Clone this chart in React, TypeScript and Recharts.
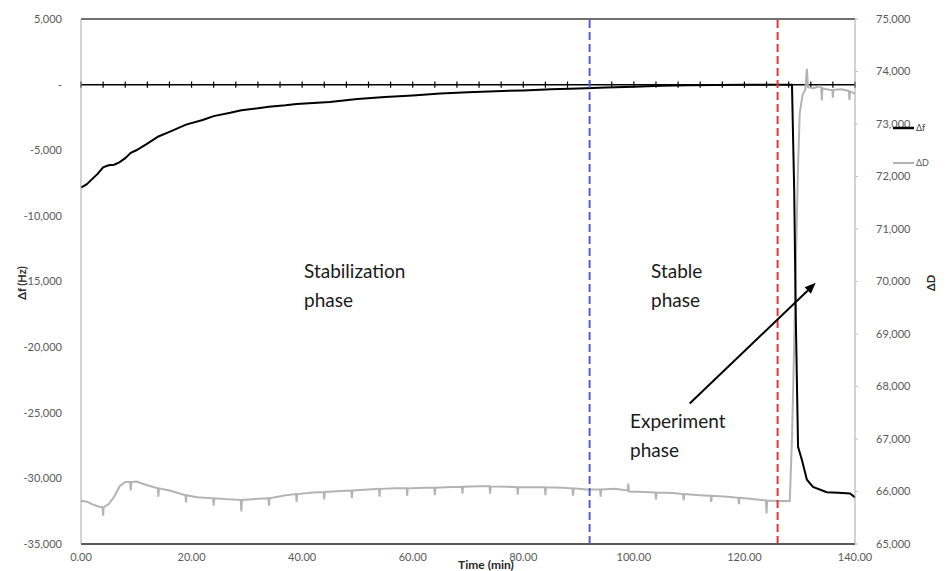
import { LineChart, Line, XAxis, YAxis, ReferenceLine } from "recharts";

// Δf (Hz), primary axis
const TIME_F = [
  0, 1, 2, 3, 4, 5, 6, 7, 8, 9, 10, 12, 14, 16, 19, 22, 24, 27, 29, 32, 34, 37, 39, 42, 45,
  50, 55, 60, 65, 70, 75, 80, 85, 90, 95, 100, 105, 110, 115, 120, 125, 128.6, 129.0, 129.3,
  129.7, 130.4, 131.3, 132.4, 134.9, 137, 139.1, 140,
];
const DELTA_F = [
  -7850, -7600, -7200, -6800, -6300, -6150, -6100, -5900, -5600, -5200, -5000, -4500, -3950,
  -3600, -3050, -2700, -2400, -2150, -1950, -1800, -1680, -1580, -1480, -1400, -1330,
  -1100, -950, -820, -680, -580, -500, -440, -360, -290, -220, -160, -90, -40, -20, -10, 0,
  0, -8000, -18000, -27600, -28600, -30100, -30650, -31050, -31100, -31150, -31450,
];

// ΔD, secondary axis
const TIME_D = [
  0, 1, 2, 3, 3.9, 4, 4.1, 5, 6, 7, 8, 8.9, 9, 9.1, 10, 12,
  13.9, 14, 14.1, 16, 18.9, 19, 19.1, 21, 23.9, 24, 24.1, 27, 28.9, 29, 29.1, 32,
  33.9, 34, 34.1, 37, 38.9, 39, 39.1, 42, 43.9, 44, 44.1, 47, 48.9, 49, 49.1, 52,
  53.9, 54, 54.1, 57, 58.9, 59, 59.1, 62, 63.9, 64, 64.1, 66, 68.9, 69, 69.1, 72,
  73.9, 74, 74.1, 77, 78.9, 79, 79.1, 82, 83.9, 84, 84.1, 87, 88.9, 89, 89.1, 91.5,
  93.9, 94, 94.1, 96.5, 98.9, 99, 99.1, 102, 103.9, 104, 104.1, 107, 108.9, 109, 109.1, 112,
  113.9, 114, 114.1, 117, 118.9, 119, 119.1, 121, 123.9, 124, 124.1, 126, 128.2, 128.6, 129.0, 129.4,
  129.7, 130.0, 130.5, 131.0, 131.3, 131.5, 132.5, 133.5, 133.9, 134, 134.1, 135.5, 135.9, 136, 136.1, 137.5,
  138.9, 139, 139.1, 140,
];
const DELTA_D = [
  65820, 65810, 65760, 65720, 65700, 65540, 65700, 65760, 65900, 66100, 66180, 66180, 66020, 66180, 66190, 66120,
  66060, 65900, 66060, 66020, 65930, 65790, 65930, 65890, 65870, 65730, 65870, 65850, 65840, 65620, 65840, 65860,
  65870, 65730, 65870, 65930, 65950, 65800, 65950, 65980, 65990, 65850, 65990, 66010, 66020, 65880, 66020, 66040,
  66050, 65900, 66050, 66060, 66060, 65920, 66060, 66070, 66070, 65930, 66070, 66080, 66090, 65960, 66090, 66100,
  66100, 65960, 66100, 66090, 66080, 65940, 66080, 66080, 66080, 65930, 66080, 66070, 66060, 65920, 66060, 66040,
  66040, 65900, 66040, 66050, 66020, 66150, 66000, 65990, 65980, 65850, 65980, 65970, 65950, 65830, 65950, 65930,
  65920, 65800, 65920, 65900, 65880, 65760, 65880, 65860, 65830, 65580, 65830, 65820, 65820, 67000, 68800, 70800,
  72200, 73200, 73550, 73650, 74050, 73700, 73680, 73720, 73690, 73450, 73680, 73650, 73650, 73500, 73650, 73660,
  73630, 73460, 73620, 73580,
];

const X_TICKS = [0, 20, 40, 60, 80, 100, 120, 140];
const F_TICKS = [-35000, -30000, -25000, -20000, -15000, -10000, -5000, 0, 5000];
const D_TICKS = [65000, 66000, 67000, 68000, 69000, 70000, 71000, 72000, 73000, 74000, 75000];
// minor ticks along the zero crossing line, every 4 min
const ZERO_TICKS = [
  0, 4, 8, 12, 16, 20, 24, 28, 32, 36, 40, 44, 48, 52, 56, 60, 64, 68,
  72, 76, 80, 84, 88, 92, 96, 100, 104, 108, 112, 116, 120, 124, 128, 132, 136, 140,
];

const STABLE_START = 92;
const EXPERIMENT_START = 126;

const dfData = TIME_F.map((t, i) => ({ t, v: DELTA_F[i] }));
const ddData = TIME_D.map((t, i) => ({ t, v: DELTA_D[i] }));

const FONT = "Lato, 'Open Sans', sans-serif";
const TICK = { fill: "#595959", fontSize: 11, fontFamily: FONT };

const fmtF = (v: number) => (v === 0 ? "-" : v.toLocaleString("en-US"));
const fmtD = (v: number) => v.toLocaleString("en-US");

function Arrow(props: any) {
  const { x1, y1, x2, y2 } = props;
  const ang = Math.atan2(y2 - y1, x2 - x1);
  const len = 11;
  const w = 4.5;
  const bx = x2 - len * Math.cos(ang);
  const by = y2 - len * Math.sin(ang);
  const px = -Math.sin(ang) * w;
  const py = Math.cos(ang) * w;
  return (
    <g>
      <line x1={x1} y1={y1} x2={bx} y2={by} stroke="#000" strokeWidth={2} />
      <polygon points={`${x2},${y2} ${bx + px},${by + py} ${bx - px},${by - py}`} fill="#000" />
    </g>
  );
}

export default function App() {
  return (
    <div style={{ position: "absolute", left: 0, top: 0, width: 949, height: 571, background: "#fff" }}>
      <LineChart width={949} height={571} margin={{ top: 19, right: 34, left: 21, bottom: 0 }}>
        <XAxis
          dataKey="t"
          type="number"
          domain={[0, 140]}
          ticks={X_TICKS}
          tickFormatter={(v: number) => v.toFixed(2)}
          tick={TICK}
          tickLine={false}
          tickSize={0}
          tickMargin={9}
          height={27}
          axisLine={{ stroke: "#595959", strokeWidth: 2 }}
          allowDuplicatedCategory={false}
        />
        <YAxis
          yAxisId="f"
          domain={[-35000, 5000]}
          ticks={F_TICKS}
          tickFormatter={fmtF}
          tick={TICK}
          tickLine={false}
          tickSize={0}
          tickMargin={19}
          width={60}
          axisLine={{ stroke: "#a6a6a6" }}
        />
        <YAxis
          yAxisId="d"
          orientation="right"
          domain={[65000, 75000]}
          ticks={D_TICKS}
          tickFormatter={fmtD}
          tick={TICK}
          tickLine={{ stroke: "#bfbfbf" }}
          tickSize={3}
          tickMargin={18}
          width={60}
          axisLine={{ stroke: "#a6a6a6" }}
        />

        {/* top frame and zero crossing line */}
        <ReferenceLine yAxisId="f" y={5000} stroke="#404040" strokeWidth={1.5} />
        <ReferenceLine yAxisId="f" y={0} stroke="#000" strokeWidth={1.5} />
        {ZERO_TICKS.map((t) => (
          <ReferenceLine
            key={t}
            yAxisId="f"
            segment={[
              { x: t, y: -240 },
              { x: t, y: 240 },
            ]}
            stroke="#000"
            strokeWidth={1.2}
          />
        ))}

        <Line
          yAxisId="d"
          data={ddData}
          dataKey="v"
          type="linear"
          stroke="#b3b3b3"
          strokeWidth={2}
          dot={false}
          isAnimationActive={false}
        />
        <Line
          yAxisId="f"
          data={dfData}
          dataKey="v"
          type="linear"
          stroke="#000"
          strokeWidth={2}
          dot={false}
          isAnimationActive={false}
        />

        <ReferenceLine
          yAxisId="f"
          x={STABLE_START}
          stroke="#5b5bd6"
          strokeWidth={2}
          strokeDasharray="8 4"
        />
        <ReferenceLine
          yAxisId="f"
          x={EXPERIMENT_START}
          stroke="#e0363a"
          strokeWidth={2}
          strokeDasharray="8 4"
        />
        <ReferenceLine
          yAxisId="f"
          segment={[
            { x: 110.1, y: -24300 },
            { x: 132.9, y: -15100 },
          ]}
          shape={Arrow}
        />
      </LineChart>

      <svg
        width={949}
        height={571}
        style={{ position: "absolute", left: 0, top: 0, pointerEvents: "none" }}
        fontFamily={FONT}
      >
        <text transform="translate(26,283) rotate(-90)" textAnchor="middle" fontSize={11} fontWeight={700} fill="#262626">
          Δf (Hz)
        </text>
        <text transform="translate(935,283) rotate(-90)" textAnchor="middle" fontSize={11} fontWeight={700} fill="#262626">
          ΔD
        </text>
        <text x={486} y={569} textAnchor="middle" fontSize={12} fontWeight={700} fill="#262626">
          Time (min)
        </text>

        <line x1={893} y1={128} x2={914} y2={128} stroke="#000" strokeWidth={2.5} />
        <text x={916} y={131} fontSize={9} fill="#404040">Δf</text>
        <line x1={893} y1={163} x2={914} y2={163} stroke="#b3b3b3" strokeWidth={2} />
        <text x={916} y={166} fontSize={9} fill="#595959">ΔD</text>

        <g fontSize={19} fill="#1a1a1a">
          <text x={304} y={278}>Stabilization</text>
          <text x={304} y={307}>phase</text>
          <text x={651} y={278}>Stable</text>
          <text x={651} y={307}>phase</text>
          <text x={630} y={428}>Experiment</text>
          <text x={630} y={457}>phase</text>
        </g>
      </svg>
    </div>
  );
}
